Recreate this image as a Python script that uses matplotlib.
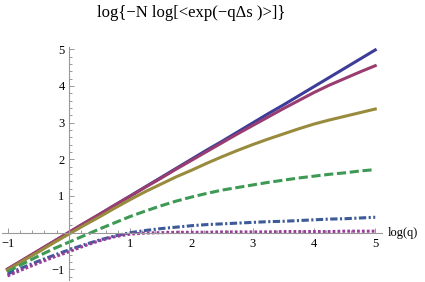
import matplotlib.pyplot as plt
from matplotlib.ticker import FixedLocator, FixedFormatter, MultipleLocator

# valores, x = log(q), paso 0.25
log_q = [-1.0, -0.75, -0.5, -0.25, 0.0, 0.25, 0.5, 0.75, 1.0, 1.25, 1.5, 1.75, 2.0,
         2.25, 2.5, 2.75, 3.0, 3.25, 3.5, 3.75, 4.0, 4.25, 4.5, 4.75, 5.0]

curva_1 = [-1.0, -0.75, -0.5, -0.25, 0.0, 0.25, 0.5, 0.75, 1.0, 1.25, 1.5, 1.75, 2.0,
           2.25, 2.49, 2.74, 2.99, 3.24, 3.48, 3.73, 3.98, 4.23, 4.48, 4.73, 4.98]
curva_2 = [-0.99, -0.74, -0.49, -0.24, 0.01, 0.26, 0.5, 0.75, 0.99, 1.24, 1.48, 1.73, 1.97,
           2.21, 2.45, 2.69, 2.92, 3.15, 3.38, 3.6, 3.82, 4.02, 4.2, 4.38, 4.55]
curva_3 = [-1.02, -0.77, -0.53, -0.28, -0.04, 0.2, 0.43, 0.67, 0.9, 1.12, 1.32, 1.52, 1.7,
           1.89, 2.07, 2.24, 2.4, 2.55, 2.69, 2.83, 2.96, 3.07, 3.17, 3.27, 3.37]
curva_4 = [-1.07, -0.85, -0.64, -0.44, -0.26, -0.08, 0.1, 0.27, 0.44, 0.59, 0.73, 0.86, 0.97,
           1.07, 1.16, 1.23, 1.3, 1.37, 1.43, 1.49, 1.54, 1.59, 1.63, 1.68, 1.72]
curva_5 = [-1.13, -0.95, -0.78, -0.62, -0.47, -0.33, -0.2, -0.09, 0.0, 0.06, 0.11, 0.15, 0.19,
           0.22, 0.24, 0.26, 0.28, 0.3, 0.31, 0.33, 0.35, 0.37, 0.38, 0.4, 0.42]
curva_6 = [-1.18, -1.0, -0.83, -0.67, -0.52, -0.36, -0.22, -0.11, -0.04, -0.01, 0.0, 0.01, 0.01,
           0.01, 0.02, 0.02, 0.02, 0.02, 0.03, 0.03, 0.03, 0.03, 0.04, 0.04, 0.04]

xticks = [-1, 1, 2, 3, 4, 5]
yticks = [-1, 1, 2, 3, 4, 5]
xtick_labels = ['−1', '1', '2', '3', '4', '5']
ytick_labels = ['−1', '1', '2', '3', '4', '5']

titulo = 'log{−N log[<exp(−qΔs )>]}'
etiqueta_x = 'log(q)'

plt.rcParams['font.family'] = ['Liberation Serif', 'DejaVu Serif']

fig = plt.figure(figsize=(4.25, 2.82), dpi=100)
# ejes colocados para que el origen quede donde en la imagen
ax = fig.add_axes([2 / 425, 1 - 280 / 282, 380 / 425, 233 / 282])
ax.set_xlim(-1.09, 5.11)
ax.set_ylim(-1.29, 5.06)

lw = 2.2
ax.plot(log_q, curva_1, color=(0.24, 0.24, 0.6), lw=lw)
ax.plot(log_q, curva_2, color=(0.6, 0.24, 0.442), lw=lw)
ax.plot(log_q, curva_3, color=(0.6, 0.547, 0.24), lw=lw)
ax.plot(log_q, curva_4, color=(0.24, 0.6, 0.33), lw=lw, dashes=(3, 1.2))
ax.plot(log_q, curva_5, color=(0.24, 0.353, 0.6), lw=lw, dashes=(2.4, 0.8, 0.7, 0.8))
ax.plot(log_q, curva_6, color=(0.6, 0.24, 0.6), lw=lw, dashes=(0.9, 0.7))

# ejes estilo Mathematica cruzando en el origen
for lado in ['top', 'right']:
    ax.spines[lado].set_visible(False)
for lado in ['left', 'bottom']:
    ax.spines[lado].set_position(('data', 0))
    ax.spines[lado].set_color('#999999')
    ax.spines[lado].set_linewidth(0.8)

ax.xaxis.set_major_locator(FixedLocator(xticks))
ax.xaxis.set_major_formatter(FixedFormatter(xtick_labels))
ax.yaxis.set_major_locator(FixedLocator(yticks))
ax.yaxis.set_major_formatter(FixedFormatter(ytick_labels))
ax.xaxis.set_minor_locator(MultipleLocator(0.2))
ax.yaxis.set_minor_locator(MultipleLocator(0.2))
ax.tick_params(which='both', direction='in', color='#999999', width=0.7, labelsize=9)
ax.tick_params(which='major', length=3.5)
ax.tick_params(which='minor', length=2)
ax.tick_params(axis='x', pad=4)
ax.tick_params(axis='y', pad=3)

ax.text(5.2, 0, etiqueta_x, fontsize=9, ha='left', va='center')
fig.text(191 / 425, 1 - 13 / 282, titulo, fontsize=12, ha='center', va='center')

fig.savefig('out.png', dpi=100)
